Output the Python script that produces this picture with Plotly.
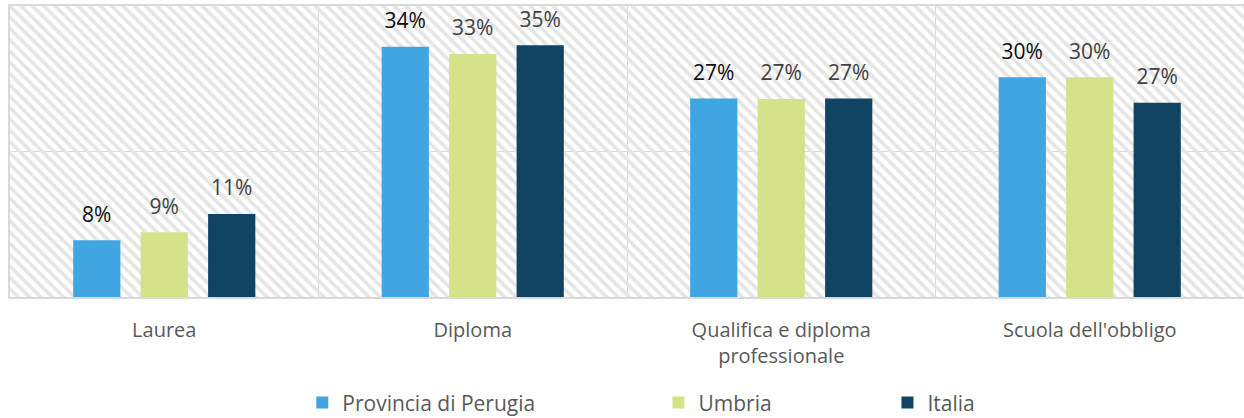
import plotly.graph_objects as go

categories = ["Laurea", "Diploma", "Qualifica e diploma<br>professionale", "Scuola dell'obbligo"]
series_names = ["Provincia di Perugia", "Umbria", "Italia"]
perugia = [7.8, 34.4, 27.3, 30.2]
umbria = [8.9, 33.4, 27.2, 30.2]
italia = [11.4, 34.6, 27.3, 26.7]
y_ticks = [0, 20, 40]

series_values = [perugia, umbria, italia]
colors = ["#41A5E1", "#D5E28A", "#114462"]
label_colors = ["#0d0d0d", "#404040", "#404040"]
legend_ids = ["legend", "legend2", "legend3"]
legend_x = [0.243, 0.5293, 0.7134]
FONT = "Open Sans"
BARGAP = 0.344

fig = go.Figure()

# hatched plot background (decoration) on the main category axis
fig.add_trace(go.Bar(
    x=categories, y=[y_ticks[-1]] * len(categories), width=[1] * len(categories),
    marker=dict(color="#e5e5e5", line=dict(width=0),
                pattern=dict(shape="\\", size=8, solidity=0.45, fillmode="replace")),
    showlegend=False, hoverinfo="skip", xaxis="x", yaxis="y",
))

for name, vals, col, lid in zip(series_names, series_values, colors, legend_ids):
    fig.add_trace(go.Bar(
        x=categories, y=vals, name=name, marker=dict(color=col, line=dict(width=0)),
        offsetgroup=name, xaxis="x2", yaxis="y", legend=lid,
    ))

for name, vals, lc in zip(series_names, series_values, label_colors):
    fig.add_trace(go.Scatter(
        x=categories, y=vals, mode="markers+text", offsetgroup=name,
        marker=dict(size=20, opacity=0),
        text=[f"{v:.0f}%" for v in vals], textposition="top center",
        textfont=dict(family=FONT, size=21, color=lc),
        showlegend=False, hoverinfo="skip", xaxis="x2", yaxis="y",
    ))

legend_style = dict(orientation="h", xref="container", yref="container", y=0.036,
                    xanchor="left", yanchor="middle",
                    font=dict(family=FONT, size=21, color="#595959"), itemwidth=30,
                    bgcolor="rgba(0,0,0,0)")

fig.update_layout(
    width=1244, height=418,
    margin=dict(l=10, r=0, t=6, b=121, autoexpand=False),
    paper_bgcolor="white", plot_bgcolor="white",
    barmode="group", bargap=BARGAP, bargroupgap=0.30,
    scattermode="group", scattergap=BARGAP,
    font=dict(family=FONT, size=20, color="#595959"),
    xaxis=dict(type="category", tickson="boundaries", showgrid=True, gridcolor="#d9d9d9",
               gridwidth=1, ticks="", showline=True, linecolor="#d9d9d9", linewidth=2,
               mirror=True, ticklabelstandoff=14,
               tickfont=dict(family=FONT, size=20, color="#595959")),
    xaxis2=dict(type="category", overlaying="x", showticklabels=False, showgrid=False,
                ticks="", showline=False, zeroline=False),
    yaxis=dict(range=[y_ticks[0], y_ticks[-1]], tickvals=y_ticks, showticklabels=False,
               showgrid=True, gridcolor="#d9d9d9", gridwidth=1, zeroline=False,
               showline=True, linecolor="#d9d9d9", linewidth=2, mirror=True, ticks=""),
    legend=dict(x=legend_x[0], **legend_style),
    legend2=dict(x=legend_x[1], **legend_style),
    legend3=dict(x=legend_x[2], **legend_style),
)

fig.write_html("out.html", config={"displayModeBar": False},
               post_script="document.body.style.margin='0';")
